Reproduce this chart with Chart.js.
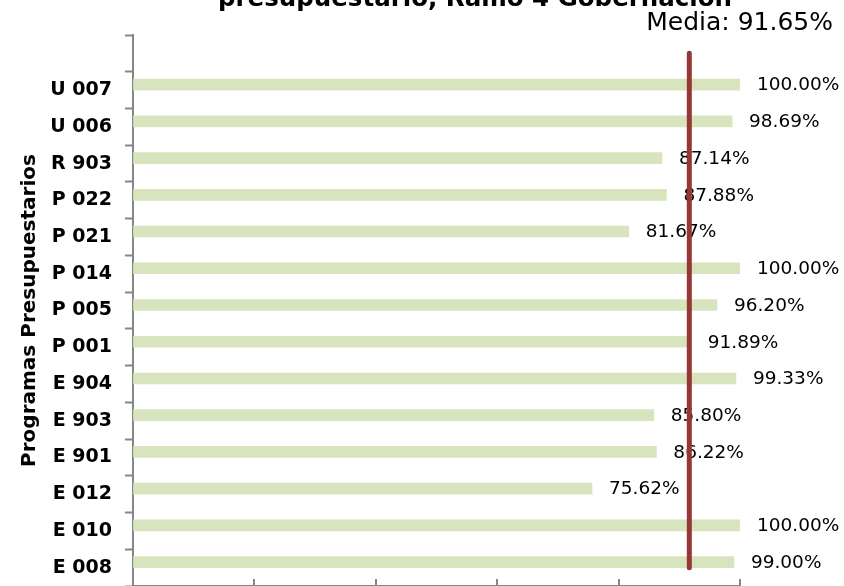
<!DOCTYPE html>
<html>
<head>
<meta charset="utf-8">
<script src="https://cdn.jsdelivr.net/npm/chart.js@4"></script>
<style>
  html, body { margin: 0; padding: 0; background: #fff; }
  canvas { display: block; }
</style>
</head>
<body>
<canvas id="ramoChart" width="844" height="586"></canvas>
<script>
// top row is empty in the original (space under the "Media" label)
const programas = ['', 'U 007', 'U 006', 'R 903', 'P 022', 'P 021', 'P 014', 'P 005',
    'P 001', 'E 904', 'E 903', 'E 901', 'E 012', 'E 010', 'E 008'];
const avance = [null, 100.00, 98.69, 87.14, 87.88, 81.67, 100.00, 96.20,
    91.89, 99.33, 85.80, 86.22, 75.62, 100.00, 99.00];
const media = 91.65;
const xTicks = [0, 20, 40, 60, 80, 100];

const tituloTexto = 'presupuestario, Ramo 4 Gobernación';
const mediaTexto = 'Media: ' + media.toFixed(2) + '%';
const ejeGris = '#868686';

const etiquetas = {
    id: 'etiquetas',
    afterDatasetDraw(chart, args) {
        if (args.index !== 0) return;
        const ctx = chart.ctx;
        ctx.save();
        ctx.font = '18.5px "DejaVu Sans"';
        ctx.fillStyle = '#000';
        ctx.textAlign = 'left';
        ctx.textBaseline = 'middle';
        args.meta.data.forEach((bar, i) => {
            if (avance[i] === null) return;
            ctx.fillText(avance[i].toFixed(2) + '%', bar.x + 17, bar.y + 1);
        });
        ctx.restore();
    }
};

const extras = {
    id: 'extras',
    afterDraw(chart) {
        const ctx = chart.ctx;
        const x = chart.scales.x;
        const area = chart.chartArea;
        ctx.save();
        // short tick marks on the value axis, pointing up into the plot
        ctx.strokeStyle = ejeGris;
        ctx.lineWidth = 2;
        xTicks.forEach(v => {
            const px = Math.round(x.getPixelForValue(v));
            ctx.beginPath();
            ctx.moveTo(px, area.bottom - 7);
            ctx.lineTo(px, area.bottom);
            ctx.stroke();
        });
        ctx.fillStyle = '#000';
        ctx.textAlign = 'center';
        ctx.textBaseline = 'alphabetic';
        ctx.font = 'bold 24.5px "DejaVu Sans"';
        ctx.fillText(tituloTexto, 475, 6);
        ctx.textAlign = 'right';
        ctx.font = '25px "DejaVu Sans"';
        ctx.fillText(mediaTexto, 833, 30);
        ctx.restore();
    }
};

new Chart(document.getElementById('ramoChart'), {
    type: 'bar',
    data: {
        labels: programas,
        datasets: [
            {
                label: 'Avance',
                data: avance,
                backgroundColor: '#D7E4BD',
                barThickness: 11
            },
            {
                // empty second series, keeps the bars off-centre like the original
                label: '',
                data: programas.map(() => null),
                backgroundColor: 'transparent',
                barThickness: 11
            },
            {
                type: 'line',
                label: 'Media',
                data: [
                    { x: media, y: programas[0] },
                    { x: media, y: programas[programas.length - 1] }
                ],
                borderColor: '#953735',
                borderWidth: 5,
                borderCapStyle: 'round',
                pointRadius: 0,
                order: -1
            }
        ]
    },
    options: {
        indexAxis: 'y',
        responsive: false,
        animation: false,
        layout: {
            padding: { left: 0, top: 35, right: 104, bottom: -1 }
        },
        scales: {
            x: {
                min: 0,
                max: 100,
                ticks: { display: false, stepSize: 20 },
                grid: { drawOnChartArea: false, drawTicks: false },
                border: { display: true, color: ejeGris, width: 2 },
                afterFit(scale) { scale.height = 0; }
            },
            y: {
                grid: {
                    offset: true,
                    drawOnChartArea: false,
                    drawTicks: true,
                    tickLength: 8,
                    tickWidth: 2,
                    color: ejeGris
                },
                border: { display: true, color: ejeGris, width: 2 },
                ticks: {
                    color: '#000',
                    padding: 13,
                    font: { family: 'DejaVu Sans', size: 19, weight: 'bold' }
                },
                title: {
                    display: true,
                    text: 'Programas Presupuestarios',
                    color: '#000',
                    padding: { top: 18, bottom: 0 },
                    font: { family: 'DejaVu Sans', size: 20, weight: 'bold' }
                },
                afterFit(scale) {
                    scale.width = 133;
                    scale.paddingTop = 0;
                    scale.paddingBottom = 0;
                }
            }
        },
        plugins: {
            legend: { display: false },
            tooltip: { enabled: false }
        }
    },
    plugins: [etiquetas, extras]
});
</script>
</body>
</html>
